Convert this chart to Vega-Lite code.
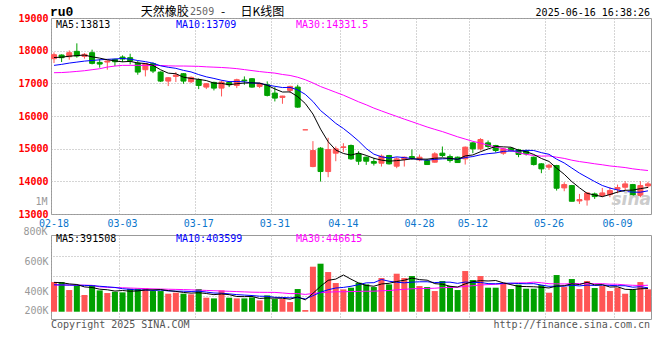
{
  "$schema": "https://vega.github.io/schema/vega-lite/v6.json",
  "background": "white",
  "padding": {"left": 17, "top": 5, "right": 8, "bottom": 4},
  "datasets": {
    "k": [
      {"d":"02-18","o":17754,"h":17948,"l":17621,"c":17877,"m5":17790,"m10":17550,"m30":17325,"v":501300,"vm5":496000,"vm10":455000,"vm30":452000},
      {"d":"02-19","o":17866,"h":17887,"l":17652,"c":17785,"m5":17800,"m10":17580,"m30":17330,"v":501300,"vm5":490000,"vm10":452000,"vm30":452000},
      {"d":"02-20","o":17815,"h":18009,"l":17723,"c":17938,"m5":17830,"m10":17620,"m30":17345,"v":366100,"vm5":470000,"vm10":450000,"vm30":450000},
      {"d":"02-21","o":17979,"h":18224,"l":17785,"c":17836,"m5":17850,"m10":17650,"m30":17365,"v":445000,"vm5":460000,"vm10":448000,"vm30":450000},
      {"d":"02-24","o":17825,"h":17928,"l":17754,"c":17887,"m5":17865,"m10":17680,"m30":17386,"v":281700,"vm5":419100,"vm10":445000,"vm30":448000},
      {"d":"02-25","o":17938,"h":18030,"l":17580,"c":17611,"m5":17811,"m10":17700,"m30":17417,"v":450600,"vm5":408900,"vm10":440000,"vm30":446000},
      {"d":"02-26","o":17641,"h":17744,"l":17478,"c":17590,"m5":17772,"m10":17720,"m30":17447,"v":360500,"vm5":380800,"vm10":430000,"vm30":420000},
      {"d":"02-27","o":17652,"h":17703,"l":17417,"c":17682,"m5":17721,"m10":17735,"m30":17498,"v":315400,"vm5":370600,"vm10":420000,"vm30":412000},
      {"d":"02-28","o":17733,"h":17754,"l":17529,"c":17662,"m5":17686,"m10":17745,"m30":17529,"v":338000,"vm5":349200,"vm10":410000,"vm30":408000},
      {"d":"03-03","o":17805,"h":17856,"l":17652,"c":17744,"m5":17658,"m10":17761,"m30":17550,"v":326700,"vm5":358200,"vm10":388700,"vm30":405000},
      {"d":"03-04","o":17785,"h":17907,"l":17580,"c":17682,"m5":17672,"m10":17742,"m30":17550,"v":388700,"vm5":345900,"vm10":377400,"vm30":400000},
      {"d":"03-05","o":17621,"h":17682,"l":17263,"c":17345,"m5":17623,"m10":17698,"m30":17550,"v":388700,"vm5":351500,"vm10":366100,"vm30":395000},
      {"d":"03-06","o":17417,"h":17621,"l":17212,"c":17601,"m5":17607,"m10":17664,"m30":17550,"v":394300,"vm5":367300,"vm10":369000,"vm30":390000},
      {"d":"03-07","o":17601,"h":17641,"l":17314,"c":17376,"m5":17550,"m10":17618,"m30":17550,"v":349200,"vm5":369500,"vm10":359400,"vm30":386000},
      {"d":"03-10","o":17345,"h":17366,"l":17039,"c":17069,"m5":17415,"m10":17536,"m30":17545,"v":349200,"vm5":374000,"vm10":366100,"vm30":383000},
      {"d":"03-11","o":17069,"h":17192,"l":16916,"c":17171,"m5":17312,"m10":17492,"m30":17535,"v":304200,"vm5":357100,"vm10":351500,"vm30":380000},
      {"d":"03-12","o":17212,"h":17345,"l":17039,"c":17253,"m5":17294,"m10":17459,"m30":17530,"v":321100,"vm5":343600,"vm10":347600,"vm30":377000},
      {"d":"03-13","o":17294,"h":17314,"l":16987,"c":17069,"m5":17188,"m10":17397,"m30":17530,"v":304200,"vm5":325600,"vm10":346400,"vm30":374000},
      {"d":"03-14","o":17049,"h":17212,"l":17008,"c":17182,"m5":17149,"m10":17349,"m30":17525,"v":292900,"vm5":314300,"vm10":341900,"vm30":370000},
      {"d":"03-17","o":17110,"h":17151,"l":16824,"c":16936,"m5":17122,"m10":17268,"m30":17520,"v":383000,"vm5":321100,"vm10":347600,"vm30":365000},
      {"d":"03-18","o":16885,"h":17008,"l":16824,"c":16987,"m5":17085,"m10":17199,"m30":17505,"v":236600,"vm5":307600,"vm10":332300,"vm30":360000},
      {"d":"03-19","o":17028,"h":17049,"l":16783,"c":16854,"m5":17006,"m10":17150,"m30":17495,"v":225300,"vm5":288400,"vm10":316000,"vm30":355000},
      {"d":"03-20","o":16854,"h":17090,"l":16599,"c":17039,"m5":17000,"m10":17094,"m30":17485,"v":360500,"vm5":299700,"vm10":312600,"vm30":350000},
      {"d":"03-21","o":17028,"h":17069,"l":16885,"c":16957,"m5":16955,"m10":17052,"m30":17470,"v":236600,"vm5":288400,"vm10":301400,"vm30":345000},
      {"d":"03-24","o":16936,"h":17141,"l":16854,"c":17110,"m5":16989,"m10":17056,"m30":17450,"v":225300,"vm5":256900,"vm10":289000,"vm30":340000},
      {"d":"03-25","o":17100,"h":17212,"l":16957,"c":17080,"m5":17008,"m10":17047,"m30":17420,"v":225300,"vm5":254600,"vm10":281100,"vm30":335000},
      {"d":"03-26","o":17141,"h":17161,"l":16865,"c":16885,"m5":17014,"m10":17010,"m30":17390,"v":242200,"vm5":258000,"vm10":273200,"vm30":330000},
      {"d":"03-27","o":16906,"h":17018,"l":16854,"c":16998,"m5":17006,"m10":17003,"m30":17360,"v":191500,"vm5":224200,"vm10":261900,"vm30":328000},
      {"d":"03-28","o":16957,"h":17059,"l":16599,"c":16630,"m5":16941,"m10":16948,"m30":17335,"v":276000,"vm5":232100,"vm10":260200,"vm30":327000},
      {"d":"03-31","o":16701,"h":16885,"l":16446,"c":16548,"m5":16828,"m10":16909,"m30":17313,"v":214000,"vm5":229800,"vm10":243300,"vm30":326500},
      {"d":"04-01","o":16569,"h":16620,"l":16374,"c":16609,"m5":16734,"m10":16871,"m30":17271,"v":214000,"vm5":227500,"vm10":241100,"vm30":316900},
      {"d":"04-02","o":16783,"h":16926,"l":16701,"c":16906,"m5":16738,"m10":16876,"m30":17241,"v":163400,"vm5":211800,"vm10":234900,"vm30":305700},
      {"d":"04-03","o":16885,"h":16957,"l":16252,"c":16272,"m5":16593,"m10":16800,"m30":17186,"v":383000,"vm5":250100,"vm10":237100,"vm30":306200},
      {"d":"04-07","o":15577,"h":15577,"l":15577,"c":15577,"m5":16382,"m10":16662,"m30":17110,"v":28200,"vm5":200500,"vm10":216300,"vm30":292300},
      {"d":"04-08","o":14453,"h":15230,"l":14432,"c":14943,"m5":16061,"m10":16445,"m30":17012,"v":760500,"vm5":309800,"vm10":269800,"vm30":308300},
      {"d":"04-09","o":15015,"h":15046,"l":13993,"c":14300,"m5":15600,"m10":16167,"m30":16902,"v":811200,"vm5":429300,"vm10":328400,"vm30":320300},
      {"d":"04-10","o":14300,"h":15332,"l":14126,"c":14974,"m5":15213,"m10":15976,"m30":16815,"v":670300,"vm5":530600,"vm10":371200,"vm30":330700},
      {"d":"04-11","o":14862,"h":15066,"l":14616,"c":14994,"m5":14958,"m10":15775,"m30":16725,"v":484400,"vm5":550900,"vm10":400500,"vm30":336300},
      {"d":"04-14","o":15036,"h":15168,"l":14892,"c":15056,"m5":14853,"m10":15618,"m30":16638,"v":377400,"vm5":620800,"vm10":410600,"vm30":337600},
      {"d":"04-15","o":15097,"h":15127,"l":14657,"c":14688,"m5":14802,"m10":15432,"m30":16536,"v":405600,"vm5":549800,"vm10":429800,"vm30":340200},
      {"d":"04-16","o":14841,"h":14923,"l":14504,"c":14616,"m5":14866,"m10":15233,"m30":16434,"v":490100,"vm5":485600,"vm10":457400,"vm30":343600},
      {"d":"04-17","o":14739,"h":14759,"l":14504,"c":14616,"m5":14794,"m10":15004,"m30":16343,"v":461900,"vm5":443900,"vm10":487300,"vm30":346000},
      {"d":"04-18","o":14606,"h":14719,"l":14484,"c":14555,"m5":14706,"m10":14832,"m30":16242,"v":416800,"vm5":430400,"vm10":490600,"vm30":346800},
      {"d":"04-21","o":14555,"h":14821,"l":14453,"c":14770,"m5":14649,"m10":14751,"m30":16155,"v":568900,"vm5":468700,"vm10":544700,"vm30":354100},
      {"d":"04-22","o":14790,"h":14810,"l":14514,"c":14535,"m5":14618,"m10":14710,"m30":16070,"v":461900,"vm5":479900,"vm10":514900,"vm30":357900},
      {"d":"04-23","o":14463,"h":14739,"l":14402,"c":14688,"m5":14633,"m10":14749,"m30":15988,"v":642200,"vm5":510300,"vm10":498000,"vm30":369100},
      {"d":"04-24","o":14667,"h":14759,"l":14453,"c":14739,"m5":14657,"m10":14726,"m30":15904,"v":568900,"vm5":531700,"vm10":487800,"vm30":377400},
      {"d":"04-25","o":14759,"h":14974,"l":14657,"c":14708,"m5":14688,"m10":14697,"m30":15825,"v":602700,"vm5":568900,"vm10":499600,"vm30":387400},
      {"d":"04-28","o":14657,"h":14821,"l":14616,"c":14739,"m5":14682,"m10":14665,"m30":15744,"v":433700,"vm5":541900,"vm10":505300,"vm30":392000},
      {"d":"04-29","o":14637,"h":14688,"l":14504,"c":14514,"m5":14678,"m10":14648,"m30":15663,"v":416800,"vm5":532900,"vm10":506400,"vm30":393200},
      {"d":"04-30","o":14586,"h":14892,"l":14575,"c":14841,"m5":14708,"m10":14671,"m30":15591,"v":349200,"vm5":474300,"vm10":492300,"vm30":396900},
      {"d":"05-06","o":14862,"h":15066,"l":14739,"c":14790,"m5":14718,"m10":14688,"m30":15523,"v":518200,"vm5":464100,"vm10":497900,"vm30":406700},
      {"d":"05-07","o":14759,"h":14821,"l":14575,"c":14637,"m5":14704,"m10":14696,"m30":15443,"v":433700,"vm5":430300,"vm10":499600,"vm30":409100},
      {"d":"05-08","o":14739,"h":14759,"l":14575,"c":14575,"m5":14671,"m10":14677,"m30":15363,"v":366100,"vm5":416800,"vm10":479300,"vm30":413400},
      {"d":"05-09","o":14688,"h":15066,"l":14514,"c":15046,"m5":14778,"m10":14728,"m30":15294,"v":687200,"vm5":470900,"vm10":501900,"vm30":428800},
      {"d":"05-12","o":15178,"h":15199,"l":14862,"c":14994,"m5":14808,"m10":14758,"m30":15225,"v":535100,"vm5":508100,"vm10":491200,"vm30":439200},
      {"d":"05-13","o":14994,"h":15321,"l":14943,"c":15280,"m5":14906,"m10":14812,"m30":15171,"v":602700,"vm5":525000,"vm10":494500,"vm30":451200},
      {"d":"05-14","o":15178,"h":15250,"l":15025,"c":15066,"m5":14992,"m10":14848,"m30":15107,"v":405600,"vm5":519300,"vm10":474800,"vm30":458300},
      {"d":"05-15","o":15097,"h":15117,"l":14882,"c":14943,"m5":15066,"m10":14869,"m30":15051,"v":405600,"vm5":527200,"vm10":472000,"vm30":462600},
      {"d":"05-16","o":14862,"h":15025,"l":14811,"c":14994,"m5":15055,"m10":14917,"m30":14999,"v":490100,"vm5":487800,"vm10":479400,"vm30":471800},
      {"d":"05-19","o":15015,"h":15035,"l":14913,"c":14943,"m5":15045,"m10":14927,"m30":14943,"v":383000,"vm5":457400,"vm10":482700,"vm30":477500},
      {"d":"05-20","o":14964,"h":14994,"l":14739,"c":14821,"m5":14953,"m10":14930,"m30":14874,"v":456300,"vm5":428100,"vm10":476500,"vm30":487200},
      {"d":"05-21","o":14943,"h":14964,"l":14790,"c":14841,"m5":14908,"m10":14950,"m30":14826,"v":388700,"vm5":424700,"vm10":472000,"vm30":487400},
      {"d":"05-22","o":14739,"h":14759,"l":14484,"c":14514,"m5":14823,"m10":14944,"m30":14791,"v":388700,"vm5":421400,"vm10":474300,"vm30":499500},
      {"d":"05-23","o":14535,"h":14555,"l":14249,"c":14381,"m5":14700,"m10":14878,"m30":14772,"v":450600,"vm5":413500,"vm10":450600,"vm30":489100},
      {"d":"05-26","o":14432,"h":14535,"l":14351,"c":14494,"m5":14610,"m10":14828,"m30":14778,"v":321100,"vm5":401100,"vm10":429200,"vm30":472800},
      {"d":"05-27","o":14484,"h":14504,"l":13717,"c":13789,"m5":14404,"m10":14679,"m30":14739,"v":619600,"vm5":433700,"vm10":430900,"vm30":471100},
      {"d":"05-28","o":13799,"h":13972,"l":13697,"c":13901,"m5":14216,"m10":14562,"m30":14702,"v":416800,"vm5":439400,"vm10":432100,"vm30":468800},
      {"d":"05-29","o":13870,"h":13891,"l":13390,"c":13390,"m5":13991,"m10":14407,"m30":14647,"v":552000,"vm5":472000,"vm10":446700,"vm30":474700},
      {"d":"05-30","o":13400,"h":13615,"l":13308,"c":13441,"m5":13803,"m10":14252,"m30":14605,"v":383000,"vm5":458500,"vm10":436000,"vm30":473900},
      {"d":"06-03","o":13431,"h":13666,"l":13257,"c":13645,"m5":13633,"m10":14122,"m30":14573,"v":518200,"vm5":497900,"vm10":449500,"vm30":474800},
      {"d":"06-04","o":13615,"h":13656,"l":13462,"c":13533,"m5":13582,"m10":13993,"m30":14537,"v":399900,"vm5":454000,"vm10":443900,"vm30":472800},
      {"d":"06-05","o":13564,"h":13799,"l":13513,"c":13645,"m5":13531,"m10":13873,"m30":14507,"v":433700,"vm5":457400,"vm10":448400,"vm30":473300},
      {"d":"06-06","o":13594,"h":13819,"l":13513,"c":13717,"m5":13596,"m10":13794,"m30":14471,"v":349200,"vm5":416800,"vm10":444400,"vm30":466000},
      {"d":"06-09","o":13758,"h":13901,"l":13635,"c":13809,"m5":13670,"m10":13736,"m30":14447,"v":405600,"vm5":421300,"vm10":439900,"vm30":464100},
      {"d":"06-10","o":13819,"h":14003,"l":13717,"c":13921,"m5":13725,"m10":13692,"m30":14422,"v":304200,"vm5":378500,"vm10":438200,"vm30":452900},
      {"d":"06-11","o":13901,"h":13921,"l":13533,"c":13564,"m5":13731,"m10":13670,"m30":14383,"v":377400,"vm5":374000,"vm10":414000,"vm30":446500},
      {"d":"06-12","o":13564,"h":14003,"l":13513,"c":13870,"m5":13776,"m10":13667,"m30":14355,"v":501300,"vm5":387500,"vm10":422500,"vm30":443100},
      {"d":"06-13","o":13860,"h":13982,"l":13799,"c":13921,"m5":13813,"m10":13709,"m30":14331.5,"v":377400,"vm5":391508,"vm10":403599,"vm30":446615}
    ]
  },
  "spacing": 21,
  "bounds": "flush",
  "vconcat": [
    {
      "width": 600,
      "height": 196,
      "data": {"name": "k"},
      "encoding": {
        "x": {
          "field": "d", "type": "ordinal", "sort": null,
          "scale": {"type": "band", "paddingInner": 0.21, "paddingOuter": 0},
          "axis": {
            "values": ["02-18","03-03","03-17","03-31","04-14","04-28","05-12","05-26","06-09"],
            "bandPosition": 0, "title": null, "labelAngle": 0, "ticks": false, "domain": false,
            "labelColor": "#0b76cc", "labelPadding": 4, "grid": true
          }
        }
      },
      "resolve": {"axis": {"y": "independent"}},
      "layer": [
        {
          "mark": {"type": "rule", "strokeWidth": 1},
          "encoding": {
            "y": {
              "field": "l", "type": "quantitative", "title": null,
              "scale": {"domain": [13000, 19000], "nice": false, "zero": false},
              "axis": {
                "orient": "left",
                "values": [13000,14000,15000,16000,17000,18000,19000], "format": "d",
                "labelColor": "#ff0000", "labelFontWeight": "bold", "ticks": false, "domain": false,
                "labelPadding": 3, "grid": true, "labelFlush": false, "labelOverlap": false, "labelSeparation": 0
              }
            },
            "y2": {"field": "h"},
            "color": {"condition": {"test": "datum.c >= datum.o", "value": "#ff5555"}, "value": "#00a000"}
          }
        },
        {
          "mark": {"type": "bar", "width": 5, "strokeWidth": 1},
          "encoding": {
            "y": {"field": "o", "type": "quantitative", "axis": null},
            "y2": {"field": "c"},
            "color": {"condition": {"test": "datum.c >= datum.o", "value": "#ff5555"}, "value": "#00a000"},
            "stroke": {"condition": {"test": "datum.c >= datum.o", "value": "#ff5555"}, "value": "#00a000"}
          }
        },
        {"mark": {"type": "line", "color": "#ff00ff", "strokeWidth": 1}, "encoding": {"y": {"field": "m30", "type": "quantitative", "axis": null}}},
        {"mark": {"type": "line", "color": "#0000ff", "strokeWidth": 1}, "encoding": {"y": {"field": "m10", "type": "quantitative", "axis": null}}},
        {"mark": {"type": "line", "color": "#000000", "strokeWidth": 1}, "encoding": {"y": {"field": "m5", "type": "quantitative", "axis": null}}},
        {
          "data": {"values": [{"t": "MA5:13813"}]},
          "mark": {"type": "text", "align": "left", "baseline": "middle", "dx": 2, "color": "#000000", "font": "DejaVu Sans Mono", "fontSize": 10},
          "encoding": {"x": {"datum": "02-18"}, "y": {"datum": 18790, "axis": null}, "text": {"field": "t"}}
        },
        {
          "data": {"values": [{"t": "MA10:13709"}]},
          "mark": {"type": "text", "align": "left", "baseline": "middle", "dx": 122, "color": "#0000ff", "font": "DejaVu Sans Mono", "fontSize": 10},
          "encoding": {"x": {"datum": "02-18"}, "y": {"datum": 18790, "axis": null}, "text": {"field": "t"}}
        },
        {
          "data": {"values": [{"t": "MA30:14331.5"}]},
          "mark": {"type": "text", "align": "left", "baseline": "middle", "dx": 242, "color": "#ff00ff", "font": "DejaVu Sans Mono", "fontSize": 10},
          "encoding": {"x": {"datum": "02-18"}, "y": {"datum": 18790, "axis": null}, "text": {"field": "t"}}
        },
        {
          "data": {"values": [{"t": "ru0"}]},
          "mark": {"type": "text", "align": "left", "baseline": "middle", "dx": -4, "color": "#000000", "font": "Liberation Mono", "fontWeight": "bold", "fontSize": 13},
          "encoding": {"x": {"datum": "02-18"}, "y": {"datum": 19170, "axis": null}, "text": {"field": "t"}}
        },
        {
          "data": {"values": [{"t": "天然橡胶"}]},
          "mark": {"type": "text", "align": "left", "baseline": "middle", "dx": 3, "color": "#000000", "font": "Noto Sans CJK SC", "fontSize": 12},
          "encoding": {"x": {"datum": "03-05"}, "y": {"datum": 19170, "axis": null}, "text": {"field": "t"}}
        },
        {
          "data": {"values": [{"t": "2509"}]},
          "mark": {"type": "text", "align": "left", "baseline": "middle", "dx": -1, "color": "#666666", "font": "DejaVu Sans Mono", "fontSize": 10},
          "encoding": {"x": {"datum": "03-14"}, "y": {"datum": 19170, "axis": null}, "text": {"field": "t"}}
        },
        {
          "data": {"values": [{"t": "-"}]},
          "mark": {"type": "text", "align": "left", "baseline": "middle", "dx": -0.5, "color": "#000000", "font": "Noto Sans CJK SC", "fontSize": 12},
          "encoding": {"x": {"datum": "03-20"}, "y": {"datum": 19170, "axis": null}, "text": {"field": "t"}}
        },
        {
          "data": {"values": [{"t": "日K线图"}]},
          "mark": {"type": "text", "align": "left", "baseline": "middle", "dx": -4, "color": "#000000", "font": "Noto Sans CJK SC", "fontSize": 12},
          "encoding": {"x": {"datum": "03-25"}, "y": {"datum": 19170, "axis": null}, "text": {"field": "t"}}
        },
        {
          "data": {"values": [{"t": "2025-06-16 16:38:26"}]},
          "mark": {"type": "text", "align": "right", "baseline": "middle", "dx": 2, "color": "#000000", "font": "DejaVu Sans Mono", "fontSize": 10},
          "encoding": {"x": {"datum": "06-13"}, "y": {"datum": 19150, "axis": null}, "text": {"field": "t"}}
        },
        {
          "data": {"values": [{"t": "sina"}]},
          "mark": {"type": "text", "align": "right", "baseline": "middle", "dx": 3, "color": "#cccccc", "font": "DejaVu Sans", "fontWeight": "bold", "fontStyle": "italic", "fontSize": 17},
          "encoding": {"x": {"datum": "06-13"}, "y": {"datum": 13430, "axis": null}, "text": {"field": "t"}}
        }
      ]
    },
    {
      "width": 600,
      "height": 84,
      "data": {"name": "k"},
      "encoding": {
        "x": {
          "field": "d", "type": "ordinal", "sort": null,
          "scale": {"type": "band", "paddingInner": 0.21, "paddingOuter": 0},
          "axis": {
            "values": ["02-18","03-03","03-17","03-31","04-14","04-28","05-12","05-26","06-09"],
            "bandPosition": 0, "title": null, "labels": false, "ticks": false, "domain": false, "grid": true
          }
        }
      },
      "resolve": {"axis": {"y": "independent"}},
      "layer": [
        {
          "mark": {"type": "bar"},
          "encoding": {
            "y": {
              "field": "v", "type": "quantitative", "title": null,
              "scale": {"domain": [-123000, 1296000], "nice": false, "zero": false},
              "axis": {
                "orient": "left",
                "values": [23700, 349700, 844700],
                "labelExpr": "datum.value > 600000 ? '600K' : datum.value > 200000 ? '400K' : '200K'",
                "labelColor": "#999999", "ticks": false, "domain": false, "grid": false,
                "labelPadding": 3, "labelFlush": false, "labelOverlap": false
              }
            },
            "y2": {"datum": 0},
            "color": {"condition": {"test": "datum.c >= datum.o", "value": "#ff5555"}, "value": "#00a000"}
          }
        },
        {
          "mark": {"type": "line", "color": "#ff00ff", "strokeWidth": 1},
          "encoding": {
            "y": {
              "field": "vm30", "type": "quantitative", "title": null,
              "scale": {"domain": [-123000, 1296000], "nice": false, "zero": false},
              "axis": {"orient": "right", "values": [260200, 598000, 935900], "labels": false, "ticks": false, "domain": false, "grid": true}
            }
          }
        },
        {"mark": {"type": "line", "color": "#0000ff", "strokeWidth": 1}, "encoding": {"y": {"field": "vm10", "type": "quantitative", "axis": null}}},
        {"mark": {"type": "line", "color": "#000000", "strokeWidth": 1}, "encoding": {"y": {"field": "vm5", "type": "quantitative", "axis": null}}},
        {
          "data": {"values": [{"t": "800K"}]},
          "mark": {"type": "text", "align": "right", "baseline": "middle", "dx": -6.5, "color": "#999999", "font": "DejaVu Sans Mono", "fontSize": 10},
          "encoding": {"x": {"datum": "02-18"}, "y": {"datum": 1346400, "axis": null}, "text": {"field": "t"}}
        },
        {
          "data": {"values": [{"t": "1M"}]},
          "mark": {"type": "text", "align": "right", "baseline": "middle", "dx": -6.5, "color": "#999999", "font": "DejaVu Sans Mono", "fontSize": 10},
          "encoding": {"x": {"datum": "02-18"}, "y": {"datum": 1848100, "axis": null}, "text": {"field": "t"}}
        },
        {
          "data": {"values": [{"t": "MA5:391508"}]},
          "mark": {"type": "text", "align": "left", "baseline": "middle", "dx": 2, "color": "#000000", "font": "DejaVu Sans Mono", "fontSize": 10},
          "encoding": {"x": {"datum": "02-18"}, "y": {"datum": 1230000, "axis": null}, "text": {"field": "t"}}
        },
        {
          "data": {"values": [{"t": "MA10:403599"}]},
          "mark": {"type": "text", "align": "left", "baseline": "middle", "dx": 122, "color": "#0000ff", "font": "DejaVu Sans Mono", "fontSize": 10},
          "encoding": {"x": {"datum": "02-18"}, "y": {"datum": 1230000, "axis": null}, "text": {"field": "t"}}
        },
        {
          "data": {"values": [{"t": "MA30:446615"}]},
          "mark": {"type": "text", "align": "left", "baseline": "middle", "dx": 242, "color": "#ff00ff", "font": "DejaVu Sans Mono", "fontSize": 10},
          "encoding": {"x": {"datum": "02-18"}, "y": {"datum": 1230000, "axis": null}, "text": {"field": "t"}}
        },
        {
          "data": {"values": [{"t": "Copyright 2025 SINA.COM"}]},
          "mark": {"type": "text", "align": "left", "baseline": "middle", "dx": -3, "color": "#555555", "font": "DejaVu Sans Mono", "fontSize": 10},
          "encoding": {"x": {"datum": "02-18"}, "y": {"datum": -216000, "axis": null}, "text": {"field": "t"}}
        },
        {
          "data": {"values": [{"t": "http://finance.sina.com.cn"}]},
          "mark": {"type": "text", "align": "right", "baseline": "middle", "dx": 2, "color": "#555555", "font": "DejaVu Sans Mono", "fontSize": 10},
          "encoding": {"x": {"datum": "06-13"}, "y": {"datum": -216000, "axis": null}, "text": {"field": "t"}}
        }
      ]
    }
  ],
  "config": {
    "view": {"stroke": "#999999", "strokeWidth": 1},
    "axis": {"labelFont": "DejaVu Sans Mono", "labelFontSize": 10, "gridColor": "#aaaaaa", "gridDash": [1, 2], "gridWidth": 1},
    "axisY": {"labelOverlap": false},
    "text": {"font": "DejaVu Sans Mono", "fontSize": 10}
  }
}
